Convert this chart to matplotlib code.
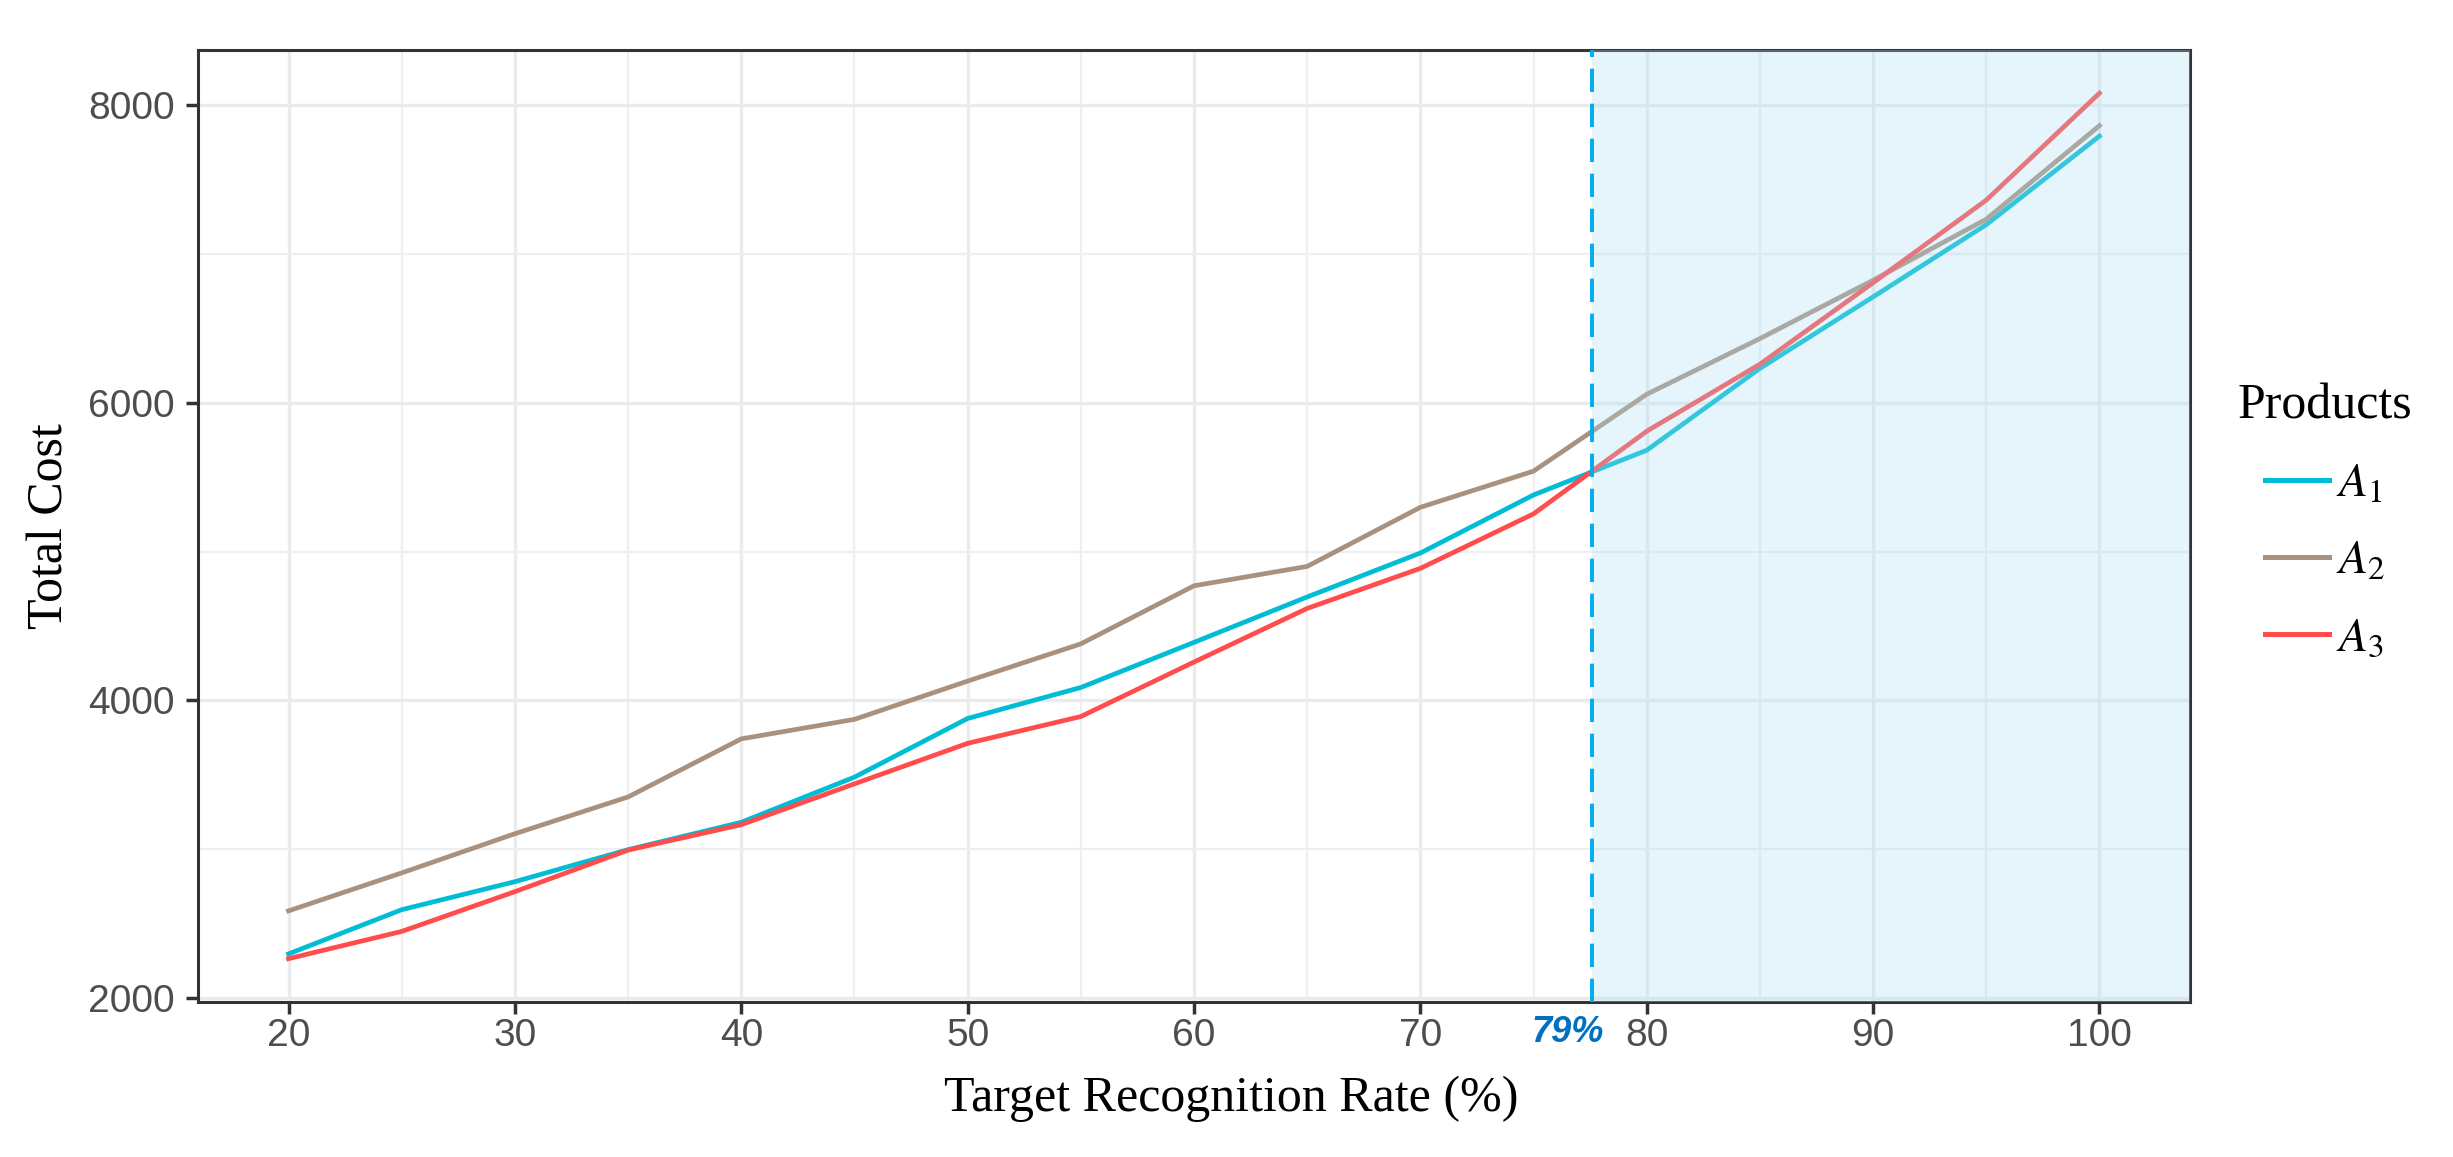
import matplotlib
matplotlib.use("Agg")
import matplotlib.pyplot as plt
from matplotlib.ticker import MultipleLocator, FixedLocator

# ---------------- data ----------------
rate = [20, 25, 30, 35, 40, 45, 50, 55, 60, 65, 70, 75, 80, 85, 90, 95, 100]
cost_A1 = [2298, 2595, 2783, 2998, 3182, 3485, 3879, 4087, 4390, 4695, 4990, 5380, 5680, 6230, 6710, 7195, 7790]
cost_A2 = [2587, 2842, 3105, 3352, 3742, 3873, 4130, 4380, 4770, 4900, 5297, 5540, 6056, 6430, 6822, 7232, 7860]
cost_A3 = [2266, 2449, 2716, 2995, 3166, 3440, 3712, 3892, 4258, 4618, 4887, 5253, 5808, 6258, 6805, 7360, 8078]
series_labels = ["$A_1$", "$A_2$", "$A_3$"]
series_colors = ["#00BCD4", "#A8927F", "#FF4D4D"]
threshold_x = 77.6
threshold_label = "79%"
x_ticks = [20, 30, 40, 50, 60, 70, 80, 90, 100]
y_ticks = [2000, 4000, 6000, 8000]

W, H = 2453, 1157
plt.rcParams["mathtext.fontset"] = "stix"
fig = plt.figure(figsize=(W / 100, H / 100), dpi=100)
ax = fig.add_axes([198 / W, 1 - 1002 / H, (2190 - 198) / W, (1002 - 50) / H])

for vals, lab, col in zip([cost_A1, cost_A2, cost_A3], series_labels, series_colors):
    ax.plot(rate, vals, color=col, lw=3.4, label=lab, zorder=3)

ax.set_xlim(16, 104)
ax.set_ylim(1975, 8368)

# shaded region over everything
ax.axvspan(threshold_x, 104, color=(172 / 255, 222 / 255, 245 / 255), alpha=0.3, lw=0, zorder=5)
ax.axvline(threshold_x, color="#00AEEF", lw=2.8, linestyle=(0, (6, 3)), zorder=6)

ax.xaxis.set_major_locator(FixedLocator(x_ticks))
ax.xaxis.set_minor_locator(MultipleLocator(5))
ax.yaxis.set_major_locator(FixedLocator(y_ticks))
ax.yaxis.set_minor_locator(MultipleLocator(1000))
ax.grid(which="major", color="#EBEBEB", lw=2.4, zorder=0)
ax.grid(which="minor", color="#EFEFEF", lw=1.6, zorder=0)
ax.set_axisbelow(True)

tick_font = ["Liberation Sans Narrow", "Liberation Sans", "DejaVu Sans"]
ax.tick_params(which="major", length=8.6, width=2.5, color="#333333", labelcolor="#4D4D4D", labelsize=28)
ax.tick_params(axis="x", which="major", pad=3)
ax.tick_params(axis="y", which="major", pad=8)
ax.tick_params(which="minor", length=0)
for lbl in ax.get_xticklabels() + ax.get_yticklabels():
    lbl.set_fontfamily(tick_font)

for sp in ax.spines.values():
    sp.set_color("#333333")
    sp.set_linewidth(2.2)

serif = ["Liberation Serif", "DejaVu Serif"]
ax.set_xlabel("Target Recognition Rate (%)", fontsize=36, family=serif, va="center")
ax.xaxis.set_label_coords((1231 - 198) / 1992, (1002 - 1099) / 952)
ax.set_ylabel("Total Cost", fontsize=36, family=serif, va="center")
ax.yaxis.set_label_coords((50 - 198) / 1992, 0.5)

ax.text(threshold_x - 1.1, (1002 - 1032.5) / 952, threshold_label, transform=ax.get_xaxis_transform(),
        ha="center", va="center", fontsize=26, fontweight="bold", fontstyle="italic",
        family=["Liberation Sans", "DejaVu Sans"], color="#0070C0", clip_on=False)

leg = ax.legend(loc="upper left", bbox_to_anchor=(2238 / W, 1 - 383 / H), bbox_transform=fig.transFigure,
                frameon=False, fontsize=34, title="Products",
                title_fontproperties={"family": serif, "size": 36},
                handlelength=1.35, handletextpad=0.15, labelspacing=0.68,
                borderpad=0, borderaxespad=0)
for h in leg.get_lines():
    h.set_linewidth(3.6)

fig.savefig("out.png", dpi=100)
